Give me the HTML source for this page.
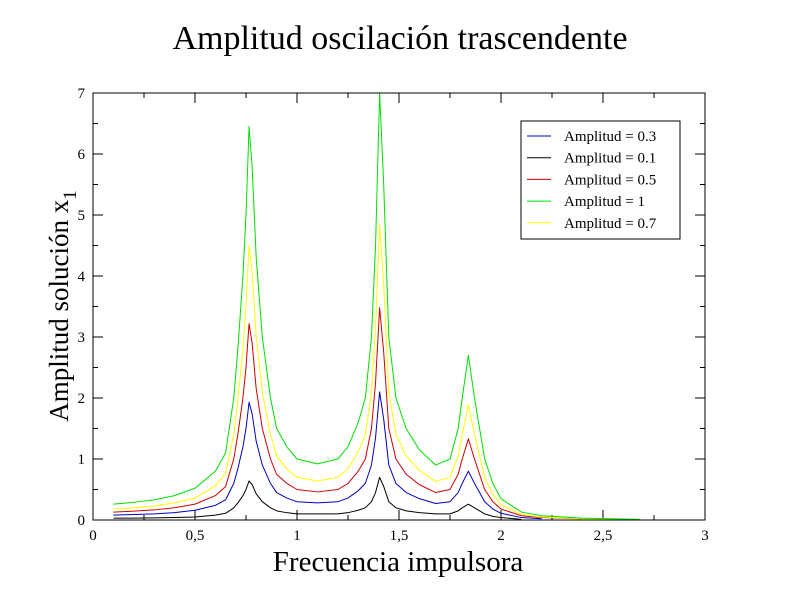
<!DOCTYPE html>
<html><head><meta charset="utf-8"><style>
body{margin:0;background:#fff}
svg{display:block;font-family:"Liberation Serif",serif}
</style></head><body>
<svg id="chart" width="792" height="612" viewBox="0 0 792 612" xmlns="http://www.w3.org/2000/svg">
<rect width="792" height="612" fill="#fff"/>
<text x="400" y="49" font-size="34" text-anchor="middle">Amplitud oscilación trascendente</text>
<text x="398" y="571" font-size="29" text-anchor="middle">Frecuencia impulsora</text>
<text transform="translate(68,306) rotate(-90)" font-size="27" text-anchor="middle">Amplitud solución x<tspan font-size="19" dy="8">1</tspan></text>
<g id="plot"></g>
<rect x="93" y="93" width="612" height="427" fill="none" stroke="#000" stroke-width="1"/>
<g id="legend"></g>
</svg>
<script>
const xs=[0.1,0.2,0.3,0.4,0.5,0.6,0.65,0.69,0.71,0.735,0.75,0.765,0.78,0.8,0.83,0.87,0.9,0.95,1.0,1.1,1.2,1.25,1.3,1.335,1.365,1.385,1.405,1.425,1.45,1.485,1.535,1.6,1.68,1.75,1.79,1.81,1.84,1.87,1.9,1.92,1.96,2.0,2.1,2.2,2.4,2.68];
const amp1=[0.26,0.29,0.33,0.40,0.52,0.80,1.10,2.0,2.8,4.0,5.0,6.45,5.8,4.3,3.0,2.0,1.5,1.2,1.0,0.92,1.0,1.2,1.6,2.0,3.0,4.5,7.0,5.5,3.0,2.0,1.5,1.15,0.9,1.0,1.5,2.0,2.7,2.0,1.4,1.0,0.6,0.35,0.13,0.07,0.03,0.01];
const amp07=[0.18,0.20,0.23,0.28,0.36,0.56,0.77,1.40,1.96,2.80,3.50,4.50,4.06,3.01,2.10,1.40,1.05,0.84,0.70,0.64,0.70,0.84,1.12,1.40,2.10,3.15,4.85,3.85,2.10,1.40,1.05,0.81,0.63,0.70,1.05,1.40,1.89,1.40,0.98,0.70,0.42,0.25,0.09,0.05,0.02,0.01];
const amp05=[0.13,0.145,0.165,0.20,0.26,0.40,0.55,1.00,1.40,2.00,2.50,3.22,2.90,2.15,1.50,1.00,0.75,0.60,0.50,0.46,0.50,0.60,0.80,1.00,1.50,2.25,3.48,2.75,1.50,1.00,0.75,0.58,0.45,0.50,0.75,1.00,1.33,1.00,0.70,0.50,0.30,0.18,0.07,0.04,0.02];
const amp03=[0.08,0.09,0.10,0.12,0.16,0.24,0.33,0.60,0.84,1.20,1.50,1.93,1.74,1.29,0.90,0.60,0.45,0.36,0.30,0.28,0.30,0.36,0.48,0.60,0.90,1.35,2.10,1.65,0.90,0.60,0.45,0.35,0.27,0.30,0.45,0.60,0.80,0.60,0.42,0.30,0.18,0.11,0.04,0.02];
const amp01=[0.03,0.03,0.035,0.04,0.05,0.08,0.11,0.20,0.28,0.40,0.50,0.64,0.58,0.43,0.30,0.20,0.15,0.12,0.10,0.10,0.10,0.12,0.16,0.20,0.30,0.45,0.70,0.55,0.30,0.20,0.15,0.12,0.10,0.10,0.15,0.20,0.26,0.20,0.14,0.10,0.06,0.04,0.01];
const xTicks=[0,0.5,1,1.5,2,2.5,3];
const xTickLabels=["0","0,5","1","1,5","2","2,5","3"];
const yTicks=[0,1,2,3,4,5,6,7];
const legendLabels=["Amplitud = 0.3","Amplitud = 0.1","Amplitud = 0.5","Amplitud = 1","Amplitud = 0.7"];
const NS="http://www.w3.org/2000/svg";
const X0=93,X1=705,Y0=520,Y1=93;
const sx=v=>X0+(v-0)/(3-0)*(X1-X0);
const sy=v=>Y0-(v-0)/(7-0)*(Y0-Y1);
const plot=document.getElementById('plot');
function mk(tag,attrs,parent){const e=document.createElementNS(NS,tag);for(const k in attrs)e.setAttribute(k,attrs[k]);parent.appendChild(e);return e;}
for(let i=0;i<=12;i++){const v=i*0.25;const L=(i%2==0)?10:5;
 const t=mk('path',{d:`M${sx(v)},${Y0}v${-L}M${sx(v)},${Y1}v${L}`,stroke:'#000','stroke-width':1},plot);
 
 }
for(let i=0;i<=14;i++){const v=i*0.5;const L=(i%2==0)?10:5;
 const t=mk('path',{d:`M${X0},${sy(v)}h${L}M${X1},${sy(v)}h${-L}`,stroke:'#000','stroke-width':1},plot);
 
 }
xTicks.forEach((v,i)=>{const t=mk('text',{x:sx(v),y:540,'font-size':15,'text-anchor':'middle'},plot);t.textContent=xTickLabels[i];
 
 });
yTicks.forEach(v=>{const t=mk('text',{x:85,y:sy(v)+5,'font-size':15,'text-anchor':'end'},plot);t.textContent=String(v);
 
 });
const series=[[amp01,'#000','series-amp-0.1'],[amp03,'#0000c0','series-amp-0.3'],[amp05,'#d00000','series-amp-0.5'],[amp07,'#ffff00','series-amp-0.7'],[amp1,'#00e000','series-amp-1']];
series.forEach(([d,c,n])=>{const p=mk('polyline',{points:d.map((v,i)=>sx(xs[i])+','+sy(v)).join(' '),fill:'none',stroke:c,'stroke-width':1,'stroke-linejoin':'round'},plot);
 
 });
const lg=document.getElementById('legend');
mk('rect',{x:521,y:121,width:159,height:118,fill:'#fff',stroke:'#000','stroke-width':1},lg);
const lc=['#0000c0','#000','#d00000','#00e000','#ffff00'];
legendLabels.forEach((s,i)=>{const y=136+i*21.7;
 const l=mk('line',{x1:527,x2:551,y1:y,y2:y,stroke:lc[i],'stroke-width':1},lg);
 
 
 const t=mk('text',{x:564,y:y+5,'font-size':15},lg);t.textContent=s;
 
 });
</script>
</body></html>
